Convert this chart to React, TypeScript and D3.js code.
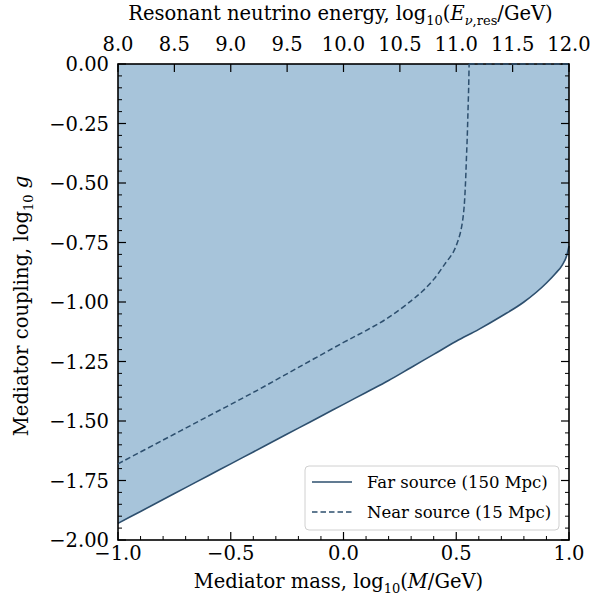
import React from "react";
import * as d3 from "d3";

const farX = [-1.0, -0.9, -0.8, -0.7, -0.6, -0.5, -0.4, -0.3, -0.2, -0.1, 0.0, 0.1, 0.2, 0.3, 0.4, 0.5, 0.6, 0.7, 0.8, 0.9, 0.94, 0.97, 0.99, 1.0];
const farY = [-1.93, -1.88, -1.83, -1.78, -1.73, -1.68, -1.63, -1.58, -1.53, -1.48, -1.43, -1.38, -1.33, -1.275, -1.22, -1.165, -1.115, -1.06, -1.0, -0.92, -0.88, -0.845, -0.805, -0.765];

const nearX = [-1.0, -0.8, -0.6, -0.4, -0.2, 0.0, 0.1, 0.2, 0.3, 0.35, 0.4, 0.45, 0.487, 0.505, 0.518, 0.528, 0.535, 0.541, 0.545, 0.549, 0.552, 0.555, 0.557, 1.0];
const nearY = [-1.68, -1.58, -1.48, -1.38, -1.275, -1.17, -1.12, -1.065, -0.995, -0.955, -0.905, -0.84, -0.79, -0.75, -0.71, -0.66, -0.6, -0.5, -0.4, -0.3, -0.2, -0.1, 0.0, 0.0];

const bottomTicks = [-1.0, -0.5, 0.0, 0.5, 1.0];
const topTicks = [8.0, 8.5, 9.0, 9.5, 10.0, 10.5, 11.0, 11.5, 12.0];
const yTicks = [0.0, -0.25, -0.5, -0.75, -1.0, -1.25, -1.5, -1.75, -2.0];
const legendLabels = ["Far source (150 Mpc)", "Near source (15 Mpc)"];

const W = 590, H = 606;
const L = 118, R = 569, T = 64, B = 540;
const FONT = "'DejaVu Serif', serif";
const FS = 19.5;
const LFS = 19.5;
const LINE = "#2d4f6e";
const FILL = "#a7c4da";

const fmtMinus = (s: string) => s.replace("-", "\u2212");

export default function App() {
  const x = d3.scaleLinear().domain([-1, 1]).range([L, R]);
  const xTop = d3.scaleLinear().domain([8, 12]).range([L, R]);
  const y = d3.scaleLinear().domain([-2, 0]).range([B, T]);

  const far = farX.map((v, i) => [v, farY[i]] as [number, number]);
  const near = nearX.map((v, i) => [v, nearY[i]] as [number, number]);

  const area = d3.area<[number, number]>().x(d => x(d[0])).y0(y(0)).y1(d => y(d[1])).curve(d3.curveMonotoneX);
  const line = d3.line<[number, number]>().x(d => x(d[0])).y(d => y(d[1])).curve(d3.curveMonotoneX);
  const straight = d3.line<[number, number]>().x(d => x(d[0])).y(d => y(d[1]));
  const nearPath = d3.line<[number, number]>().x(d => x(d[0])).y(d => y(d[1])).curve(d3.curveCatmullRom.alpha(0.5));

  const xMinor = d3.range(-10, 11).map(i => i / 10).filter(v => !bottomTicks.some(t => Math.abs(t - v) < 1e-6));
  const yMinor = d3.range(-40, 1).map(i => i / 20).filter(v => !yTicks.some(t => Math.abs(t - v) < 1e-6));

  const nearMain = near.slice(0, near.length - 1);
  const nearTop = near.slice(near.length - 2);

  return (
    <svg width={W} height={H} style={{ position: "absolute", left: 0, top: 0 }} fontFamily={FONT}>
      <rect x={0} y={0} width={W} height={H} fill="white" />
      <path d={area(far) || ""} fill={FILL} />
      <path d={line(far) || ""} fill="none" stroke={LINE} strokeWidth={1.6} />

      {bottomTicks.map(t => (
        <g key={"b" + t}>
          <line x1={x(t)} x2={x(t)} y1={B} y2={B - 8} stroke="black" strokeWidth={1.2} />
          <text x={x(t)} y={560} textAnchor="middle" fontSize={FS}>{fmtMinus(t.toFixed(1))}</text>
        </g>
      ))}
      {xMinor.map(t => (
        <line key={"bm" + t} x1={x(t)} x2={x(t)} y1={B} y2={B - 4} stroke="black" strokeWidth={1} />
      ))}
      {topTicks.map(t => (
        <g key={"t" + t}>
          <line x1={xTop(t)} x2={xTop(t)} y1={T} y2={T + 8} stroke="black" strokeWidth={1.2} />
          <text x={xTop(t)} y={51} textAnchor="middle" fontSize={FS}>{t.toFixed(1)}</text>
        </g>
      ))}
      {yTicks.map(t => (
        <g key={"y" + t}>
          <line x1={L} x2={L + 8} y1={y(t)} y2={y(t)} stroke="black" strokeWidth={1.2} />
          <line x1={R} x2={R - 8} y1={y(t)} y2={y(t)} stroke="black" strokeWidth={1.2} />
          <text x={109} y={y(t) + 7} textAnchor="end" fontSize={FS}>{fmtMinus(t.toFixed(2))}</text>
        </g>
      ))}
      {yMinor.map(t => (
        <g key={"ym" + t}>
          <line x1={L} x2={L + 4} y1={y(t)} y2={y(t)} stroke="black" strokeWidth={1} />
          <line x1={R} x2={R - 4} y1={y(t)} y2={y(t)} stroke="black" strokeWidth={1} />
        </g>
      ))}

      <rect x={L} y={T} width={R - L} height={B - T} fill="none" stroke="black" strokeWidth={1.6} />

      <path d={nearPath(nearMain) || ""} fill="none" stroke={LINE} strokeWidth={1.5} strokeDasharray="5.5,3" />
      <path d={straight(nearTop) || ""} fill="none" stroke={LINE} strokeWidth={1.5} strokeDasharray="5.5,3" />

      <rect x={305} y={466} width={254} height={64} rx={4} fill="white" fillOpacity={0.85} stroke="#d0d0d0" strokeWidth={1} />
      <line x1={312} x2={352} y1={482} y2={482} stroke={LINE} strokeWidth={1.5} />
      <line x1={312} x2={352} y1={512} y2={512} stroke={LINE} strokeWidth={1.5} strokeDasharray="5.5,3" />
      <text x={367} y={488} fontSize={16.5}>{legendLabels[0]}</text>
      <text x={367} y={518} fontSize={16.5}>{legendLabels[1]}</text>

      <text x={(L + R) / 2 - 3} y={20} textAnchor="middle" fontSize={LFS}>
        Resonant neutrino energy, log<tspan dy={5} fontSize={13}>10</tspan>
        <tspan dy={-5}>(</tspan><tspan fontStyle="italic">E</tspan>
        <tspan dy={5} fontSize={13}><tspan fontStyle="italic">ν</tspan>,res</tspan>
        <tspan dy={-5}>/GeV)</tspan>
      </text>
      <text x={(L + R) / 2 - 5} y={588} textAnchor="middle" fontSize={LFS}>
        Mediator mass, log<tspan dy={5} fontSize={13}>10</tspan>
        <tspan dy={-5}>(</tspan><tspan fontStyle="italic">M</tspan>/GeV)
      </text>
      <text transform={`translate(28,${(T + B) / 2 + 4}) rotate(-90)`} textAnchor="middle" fontSize={LFS}>
        Mediator coupling, log<tspan dy={5} fontSize={13}>10</tspan>
        <tspan dy={-5} fontStyle="italic"> g</tspan>
      </text>
    </svg>
  );
}
